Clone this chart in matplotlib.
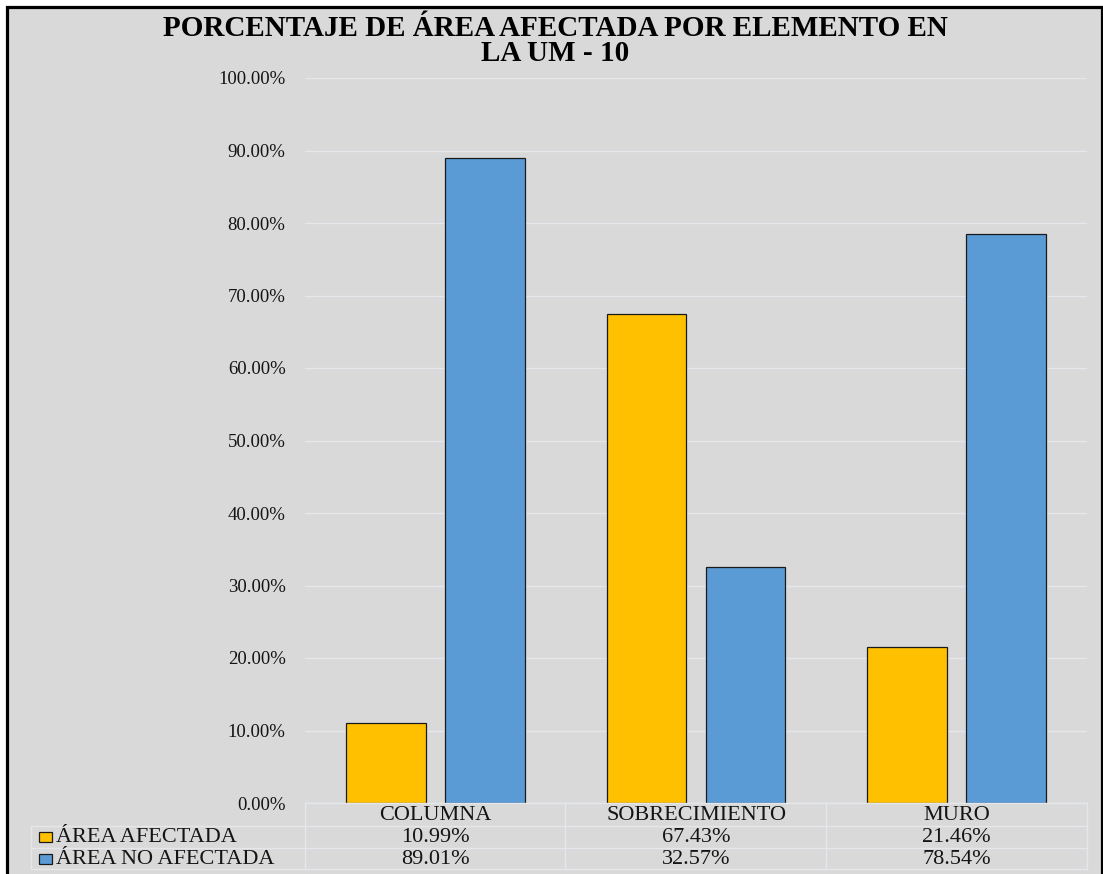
import numpy as np
import matplotlib
matplotlib.use("Agg")
import matplotlib.pyplot as plt
from matplotlib.patches import Rectangle
from matplotlib.lines import Line2D
import matplotlib.transforms as mtransforms

categories = ['COLUMNA', 'SOBRECIMIENTO', 'MURO']
series_names = ['ÁREA AFECTADA', 'ÁREA NO AFECTADA']
afectada = [10.99, 67.43, 21.46]
no_afectada = [89.01, 32.57, 78.54]
colors = ['#FFC000', '#5B9BD5']
title = 'PORCENTAJE DE ÁREA AFECTADA POR ELEMENTO EN\nLA UM - 10'

W, H = 1103, 874
bg = '#D9D9D9'
line_c = '#E4E7EB'
txt_c = '#141414'
plt.rcParams['font.family'] = ['Liberation Serif', 'DejaVu Serif']

fig = plt.figure(figsize=(W / 100, H / 100), dpi=100, facecolor='white')


def fx(px):
    return px / W


def fy(py):
    return 1 - py / H


# grey chart area with black frame (left, top and right edges)
fig.add_artist(Rectangle((fx(6.5), fy(880)), fx(1101.5) - fx(6.5), fy(6.5) - fy(880),
                         transform=fig.transFigure, facecolor=bg, edgecolor='black',
                         linewidth=2.3, zorder=0))

ax = fig.add_axes([fx(305), fy(803), fx(1087) - fx(305), fy(78) - fy(803)])
ax.set_facecolor(bg)
ax.patch.set_alpha(0)

x = np.arange(len(categories))
bw = 0.305
off = 0.19
ax.bar(x - off, afectada, bw, color=colors[0], edgecolor='#1A1A1A', linewidth=0.9, zorder=3)
ax.bar(x + off, no_afectada, bw, color=colors[1], edgecolor='#1A1A1A', linewidth=0.9, zorder=3)

ax.set_xlim(-0.5, len(categories) - 0.5)
ax.set_ylim(0, 100)
ax.set_yticks(np.arange(0, 101, 10))
ax.set_yticklabels(['%.2f%%' % v for v in np.arange(0, 101, 10)], fontsize=13.5, color=txt_c)
ax.tick_params(axis='y', length=0, pad=14)
ax.set_xticks([])
ax.grid(axis='y', color=line_c, linewidth=1, zorder=0)
for s in ax.spines.values():
    s.set_visible(False)

# data table below the plot
tr = mtransforms.blended_transform_factory(ax.transData, fig.transFigure)
rows_y = [fy(815), fy(837), fy(859)]
for i, c in enumerate(categories):
    ax.text(i, rows_y[0], c, transform=tr, ha='center', va='center', fontsize=16, color=txt_c)
    ax.text(i, rows_y[1], '%.2f%%' % afectada[i], transform=tr, ha='center', va='center',
            fontsize=16, color=txt_c)
    ax.text(i, rows_y[2], '%.2f%%' % no_afectada[i], transform=tr, ha='center', va='center',
            fontsize=16, color=txt_c)

for j, name in enumerate(series_names):
    yy = rows_y[j + 1]
    fig.add_artist(Rectangle((fx(39), yy - 5 / H), 13 / W, 10 / H, transform=fig.transFigure,
                             facecolor=colors[j], edgecolor='#1A1A1A', linewidth=0.9))
    fig.text(fx(56), yy, name, ha='left', va='center', fontsize=16, color=txt_c)

# table grid lines
hlines = [(305, 1087, 803), (31, 1087, 826), (31, 1087, 848), (31, 1087, 869)]
for x0, x1, yp in hlines:
    fig.add_artist(Line2D([fx(x0), fx(x1)], [fy(yp), fy(yp)], transform=fig.transFigure,
                          color=line_c, linewidth=1))
vlines = [(305, 803), (565, 803), (826, 803), (1087, 803), (31, 826)]
for xp, y0 in vlines:
    fig.add_artist(Line2D([fx(xp), fx(xp)], [fy(y0), fy(869)], transform=fig.transFigure,
                          color=line_c, linewidth=1))

fig.text(fx(555), fy(41), title, ha='center', va='center', fontsize=21, fontweight='bold',
         color='black', linespacing=0.9)

fig.savefig('out.png', dpi=100, facecolor='white')
